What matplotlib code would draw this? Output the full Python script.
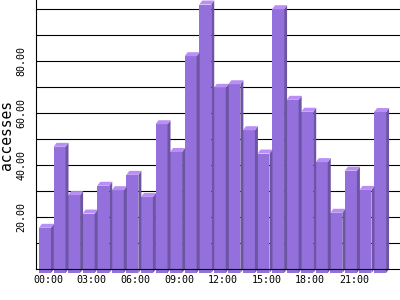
import numpy as np
import matplotlib
matplotlib.use("Agg")
import matplotlib.pyplot as plt
from matplotlib.patches import Polygon

# hourly accesses
hours = ["%02d:00" % h for h in range(24)]
accesses = [17.4, 48.6, 30.0, 22.9, 33.6, 31.9, 37.8, 29.3,
            57.3, 46.6, 83.5, 103.4, 71.3, 72.7, 55.0, 46.0,
            101.6, 66.7, 62.1, 42.7, 23.2, 39.4, 32.0, 62.0]
yticks_major = [20, 40, 60, 80]
grid_levels = list(range(10, 110, 10))

front_col = "#9370DB"
side_col = "#6E54A5"
top_col = "#BA8FF5"

fig = plt.figure(figsize=(4, 3), dpi=100)
ax = fig.add_axes([36 / 400, 31 / 300, 364 / 400, 269 / 300])

slot_px = 14.57
xlim = (-0.82, -0.82 + 364 / slot_px)
ylim = (0, 103.6)
ax.set_xlim(*xlim)
ax.set_ylim(*ylim)

# 3d offsets in data units (3px across, 4px up)
dx = 3 / slot_px
dy = 4 / (269 / ylim[1])
w = 12 / slot_px

for lvl in grid_levels:
    ax.axhline(lvl, color="black", lw=0.8, zorder=1)

x = np.arange(len(accesses))
ax.bar(x - dx, accesses, width=w, bottom=-dy, color=front_col,
       linewidth=0, zorder=3, clip_on=False)
for i, v in zip(x, accesses):
    r = i + w / 2
    l = i - w / 2
    side = Polygon([(r - dx, -dy), (r, 0), (r, v), (r - dx, v - dy)],
                   closed=True, facecolor=side_col, lw=0, zorder=3, clip_on=False)
    top = Polygon([(l - dx, v - dy), (l, v), (r, v), (r - dx, v - dy)],
                  closed=True, facecolor=top_col, lw=0, zorder=3, clip_on=False)
    ax.add_patch(side)
    ax.add_patch(top)

for s in ["top", "right"]:
    ax.spines[s].set_visible(False)
for s in ["left", "bottom"]:
    ax.spines[s].set_color("black")
    ax.spines[s].set_linewidth(0.8)
    ax.spines[s].set_zorder(5)

ax.set_xticks(x[::3])
ax.set_xticklabels(hours[::3], family="DejaVu Sans Mono", fontsize=7.2)
ax.set_yticks(yticks_major)
ax.set_yticklabels(["%.2f" % t for t in yticks_major], family="DejaVu Sans Mono",
                   fontsize=7.2, rotation=90, va="center")
ax.tick_params(axis="both", length=0)
ax.tick_params(axis="x", pad=4)
ax.tick_params(axis="y", pad=7)

ax.set_ylabel("accesses", family="DejaVu Sans Mono", fontsize=10.5)
ax.yaxis.set_label_coords(-0.06, 0.5)

fig.savefig("out.png", dpi=100)
